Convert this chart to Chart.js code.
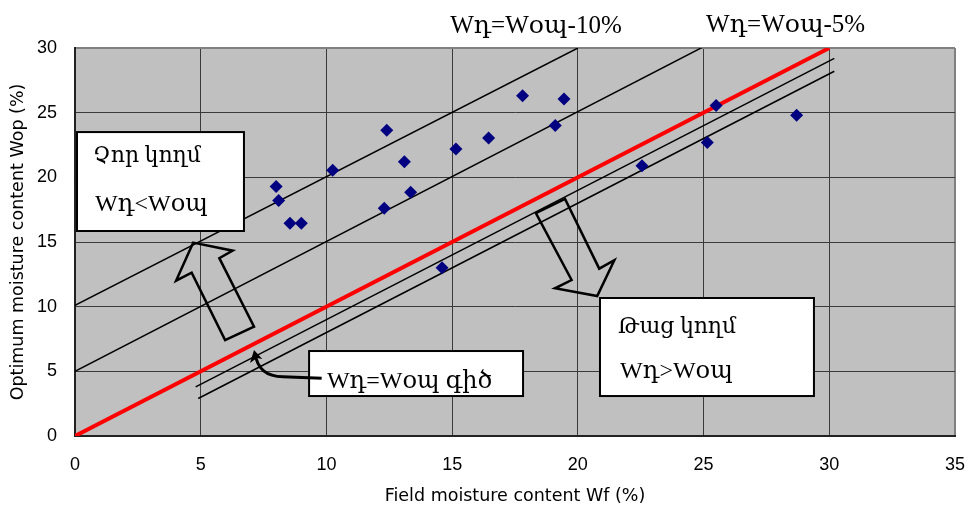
<!DOCTYPE html>
<html>
<head>
<meta charset="utf-8">
<script src="https://cdn.jsdelivr.net/npm/chart.js@4/dist/chart.umd.min.js"></script>
<style>
  html, body { margin: 0; padding: 0; background: #fff; }
  #chart { display: block; }
</style>
</head>
<body>
<canvas id="chart" width="968" height="507"></canvas>
<script>
// measured points (Wf, Wop)
const fieldMoisture = [8.0, 8.1, 8.55, 9.0, 10.25, 12.4, 12.3, 13.1, 13.35, 15.15, 14.6, 16.45, 17.8, 19.1, 19.45, 22.55, 25.15, 25.5, 28.7];
const optimumMoisture = [19.3, 18.2, 16.45, 16.45, 20.55, 23.65, 17.6, 21.2, 18.85, 22.2, 13.0, 23.05, 26.3, 24.0, 26.05, 20.9, 22.7, 25.55, 24.8];

// reference lines, end points
const equalLineX = [0, 30];
const equalLineY = [0, 30];
const minus10LineX = [0, 20];
const minus10LineY = [10.1, 30];
const minus5LineX = [0, 25];
const minus5LineY = [5, 30.1];
const wetLineAX = [4.8, 30.2];
const wetLineAY = [3.8, 29.2];
const wetLineBX = [4.9, 30.2];
const wetLineBY = [2.9, 28.2];

const xTickValues = [0, 5, 10, 15, 20, 25, 30, 35];
const yTickValues = [0, 5, 10, 15, 20, 25, 30];

const xTitle = 'Field moisture content Wf (%)';
const yTitle = 'Optimum moisture content Wop (%)';

const toPoints = (xs, ys) => xs.map((v, i) => ({ x: v, y: ys[i] }));

// annotations, in data units
const serif = '"Liberation Serif", "DejaVu Serif", serif';
const topLabels = [
    { text: 'Wդ=Wօպ-10%', x: 14.92, y: 31.16 },
    { text: 'Wդ=Wօպ-5%', x: 25.1, y: 31.24 }
];
const textBoxes = [
    { x0: 0.08, y0: 23.5, x1: 6.72, y1: 15.85, lines: [
        { text: 'Չոր կողմ', x: 0.72, y: 21.19, size: 22 },
        { text: 'Wդ<Wօպ', x: 0.8, y: 17.4, size: 24 }
    ] },
    { x0: 20.88, y0: 10.67, x1: 29.39, y1: 3.09, lines: [
        { text: 'Թաց կողմ', x: 21.6, y: 7.96, size: 22 },
        { text: 'Wդ>Wօպ', x: 21.68, y: 4.48, size: 24 }
    ] },
    { x0: 9.31, y0: 6.57, x1: 17.82, y1: 3.09, lines: [
        { text: 'Wդ=Wօպ գիծ', x: 10.02, y: 3.71, size: 24 }
    ] }
];
const dryArrow = [[4.70, 14.95], [6.27, 14.33], [5.74, 13.75], [7.12, 8.45], [5.97, 7.42], [4.64, 12.63], [4.02, 12.01]];
const wetArrow = [[18.33, 17.24], [19.49, 18.33], [20.85, 12.94], [21.45, 13.59], [20.77, 10.82], [19.09, 11.42], [19.75, 12.06]];
const pointerCurve = { start: [9.81, 4.46], bend: [8.27, 4.59], ctrl: [7.29, 4.59], end: [7.16, 6.39] };
const pointerHead = [[7.12, 6.65], [7.45, 5.95], [7.24, 6.04], [6.96, 5.65]];

const annotationPlugin = {
    id: 'annotations',
    beforeDraw(chart) {
        const { ctx, chartArea: a } = chart;
        ctx.save();
        ctx.fillStyle = '#c0c0c0';
        ctx.fillRect(a.left, a.top, a.right - a.left, a.bottom - a.top);
        ctx.restore();
    },
    afterDatasetsDraw(chart) {
        const { ctx, scales: { x, y } } = chart;
        const px = (v) => x.getPixelForValue(v);
        const py = (v) => y.getPixelForValue(v);
        const path = (pts) => {
            ctx.beginPath();
            pts.forEach(([a, b], i) => (i ? ctx.lineTo(px(a), py(b)) : ctx.moveTo(px(a), py(b))));
            ctx.closePath();
        };

        ctx.save();
        ctx.strokeStyle = '#000';
        ctx.lineWidth = 2.5;
        ctx.lineJoin = 'miter';
        path(dryArrow);
        ctx.stroke();
        path(wetArrow);
        ctx.stroke();

        ctx.textBaseline = 'alphabetic';
        ctx.textAlign = 'left';
        textBoxes.forEach((b) => {
            const l = px(b.x0), t = py(b.y0), r = px(b.x1), bt = py(b.y1);
            ctx.fillStyle = '#fff';
            ctx.fillRect(l, t, r - l, bt - t);
            ctx.lineWidth = 2;
            ctx.strokeRect(l, t, r - l, bt - t);
            ctx.fillStyle = '#000';
            b.lines.forEach((ln) => {
                ctx.font = `${ln.size}px ${serif}`;
                ctx.fillText(ln.text, px(ln.x), py(ln.y));
            });
        });

        // curved pointer to the Wդ=Wօպ line
        ctx.lineWidth = 3;
        ctx.beginPath();
        ctx.moveTo(px(pointerCurve.start[0]), py(pointerCurve.start[1]));
        ctx.lineTo(px(pointerCurve.bend[0]), py(pointerCurve.bend[1]));
        ctx.quadraticCurveTo(px(pointerCurve.ctrl[0]), py(pointerCurve.ctrl[1]),
            px(pointerCurve.end[0]), py(pointerCurve.end[1]));
        ctx.stroke();
        path(pointerHead);
        ctx.fillStyle = '#000';
        ctx.fill();

        ctx.font = `25px ${serif}`;
        topLabels.forEach((lb) => ctx.fillText(lb.text, px(lb.x), py(lb.y)));
        ctx.restore();
    }
};

const lineStyle = (color, width) => ({
    showLine: true,
    borderColor: color,
    borderWidth: width,
    pointRadius: 0,
    fill: false
});

const sans = '"Liberation Sans", Arial, sans-serif';
const titleFont = '"DejaVu Sans", sans-serif';
const edgeColor = (max) => (ctx) => (ctx.tick && ctx.tick.value === max ? '#808080' : '#3a3a3a');
const edgeWidth = (max) => (ctx) => (ctx.tick && ctx.tick.value === max ? 2 : 1);

new Chart(document.getElementById('chart'), {
    type: 'scatter',
    data: {
        datasets: [
            {
                label: 'points',
                data: toPoints(fieldMoisture, optimumMoisture),
                pointStyle: 'rectRot',
                pointRadius: 6.5,
                backgroundColor: '#000080',
                borderWidth: 0
            },
            { label: 'equal', data: toPoints(equalLineX, equalLineY), ...lineStyle('#ff0000', 4) },
            { label: '-10', data: toPoints(minus10LineX, minus10LineY), ...lineStyle('#000', 1.5) },
            { label: '-5', data: toPoints(minus5LineX, minus5LineY), ...lineStyle('#000', 1.5) },
            { label: 'wetA', data: toPoints(wetLineAX, wetLineAY), ...lineStyle('#000', 1.5) },
            { label: 'wetB', data: toPoints(wetLineBX, wetLineBY), ...lineStyle('#000', 1.5) }
        ]
    },
    options: {
        responsive: false,
        devicePixelRatio: 1,
        animation: false,
        layout: { padding: { top: 48, right: 13, left: 0, bottom: 0 } },
        scales: {
            x: {
                type: 'linear',
                min: 0,
                max: 35,
                afterBuildTicks: (s) => { s.ticks = xTickValues.map((v) => ({ value: v })); },
                afterFit: (s) => { s.height = 71; s.paddingLeft = 0; s.paddingRight = 0; },
                grid: { color: edgeColor(35), lineWidth: edgeWidth(35), drawTicks: false },
                border: { color: '#222', width: 2 },
                ticks: { color: '#000', font: { family: sans, size: 18 }, padding: 18, maxRotation: 0 },
                title: { display: true, text: xTitle, color: '#000', font: { family: titleFont, size: 17.5 }, padding: { top: 0, bottom: 0 } }
            },
            y: {
                type: 'linear',
                min: 0,
                max: 30,
                afterBuildTicks: (s) => { s.ticks = yTickValues.map((v) => ({ value: v })); },
                afterFit: (s) => { s.width = 75; s.paddingTop = 0; s.paddingBottom = 0; },
                grid: { color: edgeColor(30), lineWidth: edgeWidth(30), drawTicks: false },
                border: { color: '#222', width: 2 },
                ticks: { color: '#000', font: { family: sans, size: 18 }, padding: 18 },
                title: { display: true, text: yTitle, color: '#000', font: { family: titleFont, size: 17.5 }, padding: { top: 8, bottom: 0 } }
            }
        },
        plugins: {
            legend: { display: false },
            tooltip: { enabled: false }
        }
    },
    plugins: [annotationPlugin]
});
</script>
</body>
</html>
